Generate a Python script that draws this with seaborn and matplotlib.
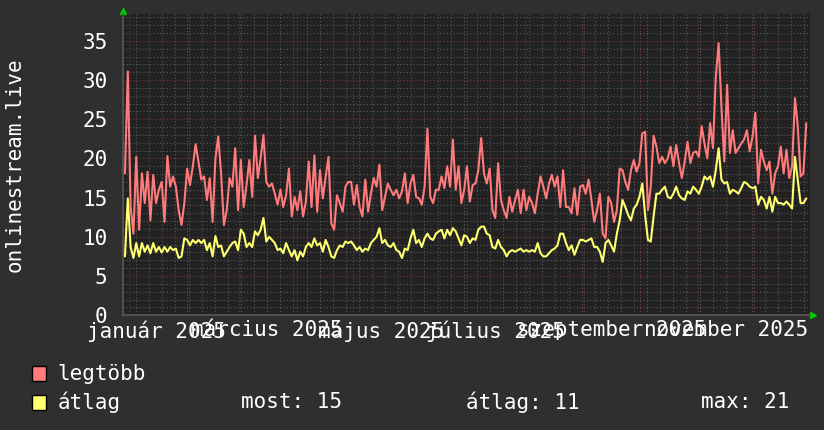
import pandas as pd
import matplotlib.pyplot as plt
import matplotlib.dates as mdates
from matplotlib.ticker import MultipleLocator
import seaborn as sns

# rrdtool-like dark style
sns.set_theme(style='dark')
plt.rcParams['font.family'] = ['DejaVu Sans Mono', 'DejaVu Sans']

# values, roughly every 1.5 days
legtobb = [
    18.1, 31.1, 13.8, 10.4, 20.2, 10.9, 18.1, 14.3, 18.3, 12.1, 17.9, 14.3, 16.0, 17.0, 11.9, 20.3,
    16.4, 17.7, 16.4, 13.4, 11.5, 14.3, 18.7, 16.6, 19.0, 21.8, 19.6, 17.3, 17.7, 14.7, 17.5, 11.9,
    20.0, 22.8, 18.1, 11.5, 13.4, 17.5, 16.4,
    21.3, 13.4, 19.8, 13.8, 16.6, 19.8, 15.1, 22.9, 17.5, 20.0, 23.0, 17.0, 16.4, 16.8, 15.5, 14.1,
    16.0, 13.8, 15.3, 18.7, 12.6, 15.1, 13.4, 15.8, 12.6, 14.5, 19.6, 13.8, 20.4, 13.2, 18.5, 14.9,
    17.7, 20.2, 11.7, 10.9, 15.3, 14.3, 13.2, 16.4, 17.0,
    17.0, 14.1, 16.6, 13.8, 12.6, 17.3, 13.2, 15.5, 17.5, 16.4, 19.2, 13.4, 15.1, 16.8, 16.0, 15.3,
    16.0, 14.9, 15.8, 18.1, 14.3, 16.8, 17.9, 15.1, 14.9, 14.1, 16.4, 23.8, 15.1, 14.3, 16.0, 16.0,
    17.7, 16.2, 19.0, 16.4, 22.4, 16.0, 19.0, 14.3, 16.0,
    19.0, 14.5, 16.6, 16.8, 18.5, 22.6, 18.1, 16.8, 18.7, 13.4, 12.4, 19.4, 14.7, 13.4, 12.4, 15.1,
    13.2, 14.7, 16.0, 13.0, 16.0, 13.4, 15.1, 14.3, 13.0, 15.5, 17.7, 16.4, 14.9, 16.8, 17.9, 16.4,
    17.7, 13.8, 18.5, 13.8, 13.8, 13.0, 16.2, 12.8, 16.4,
    16.6, 15.5, 17.3, 14.7, 11.9, 13.4, 15.5, 10.4, 9.8, 15.1, 14.3, 11.9, 13.4, 18.7, 18.5, 17.0,
    16.0, 18.5, 19.8, 18.3, 19.4, 23.2, 23.4, 13.4, 16.4, 22.9, 21.5, 19.4, 20.2, 19.4, 20.0, 21.5,
    19.0, 21.7, 19.4, 17.5, 19.6, 22.1, 19.4, 20.7, 20.9,
    20.2, 24.1, 21.9, 20.0, 24.5, 21.3, 30.4, 34.7, 26.6, 19.6, 29.4, 20.7, 23.6, 20.7, 21.3, 21.9,
    22.4, 23.6, 20.9, 22.8, 25.8, 16.8, 21.1, 19.6, 18.5, 19.6, 15.5, 18.1, 19.0, 21.5, 18.1, 21.1,
    17.5, 19.0, 27.7, 24.1, 17.7, 18.1, 24.5,
]
atlag = [
    7.5, 14.9, 8.7, 7.3, 9.2, 7.5, 9.2, 8.1, 8.9, 7.9, 9.2, 8.1, 8.7, 8.0, 8.7, 8.1,
    8.7, 8.3, 8.5, 7.3, 7.5, 9.8, 9.6, 8.9, 9.6, 9.2, 9.6, 9.2, 9.6, 8.3, 9.2, 7.5,
    10.1, 8.7, 8.9, 7.5, 8.1, 8.7, 9.2,
    9.4, 8.3, 10.9, 10.4, 8.7, 9.2, 8.7, 10.7, 10.2, 10.9, 12.4, 9.4, 10.0, 9.6, 9.2, 8.3,
    8.5, 7.9, 9.2, 8.3, 7.5, 8.3, 7.0, 8.1, 7.5, 8.7, 9.2, 8.7, 9.8, 8.9, 9.2, 8.1,
    9.6, 8.7, 7.5, 7.3, 8.3, 8.9, 8.7, 9.4, 9.2,
    9.4, 8.9, 8.3, 8.7, 8.1, 8.5, 8.3, 9.2, 9.6, 10.0, 11.1, 9.2, 9.6, 8.9, 8.7, 9.2,
    8.3, 8.1, 7.3, 8.5, 8.3, 9.8, 10.9, 9.2, 9.6, 8.7, 9.8, 10.4, 9.8, 9.6, 10.4, 10.7,
    10.9, 9.8, 10.9, 10.2, 11.1, 10.7, 9.8, 8.9, 10.2,
    10.0, 9.2, 9.8, 9.6, 10.9, 11.3, 11.3, 10.4, 10.2, 8.7, 8.5, 9.6, 8.7, 8.3, 7.5, 8.1,
    8.3, 8.1, 8.3, 8.5, 8.1, 8.3, 8.1, 8.3, 8.1, 9.2, 7.9, 7.5, 7.5, 7.9, 8.3, 8.5,
    8.9, 10.4, 10.4, 9.2, 8.3, 8.9, 7.7, 8.7, 9.6,
    9.6, 9.4, 9.6, 9.8, 8.7, 8.7, 8.1, 6.8, 9.2, 9.6, 8.9, 8.1, 10.4, 12.1, 14.7, 13.8,
    12.8, 12.1, 13.6, 14.1, 15.1, 16.8, 12.8, 9.6, 9.4, 12.6, 15.5, 15.5, 16.0, 16.4, 15.1, 14.9,
    15.5, 16.4, 15.3, 14.9, 14.7, 15.8, 15.5, 16.4, 16.0,
    15.5, 16.4, 17.7, 17.3, 17.7, 16.4, 18.5, 21.3, 17.3, 16.8, 17.0, 15.5, 16.0, 15.8, 15.5, 16.2,
    17.0, 16.8, 16.4, 16.2, 16.4, 14.1, 15.1, 14.7, 13.6, 15.1, 13.2, 15.1, 14.3, 14.3, 14.1, 14.5,
    14.1, 13.6, 20.2, 17.3, 14.3, 14.3, 14.9,
]
legend_names = ['legtöbb', 'átlag']
stat_labels = ['most: 15', 'átlag: 11', 'max: 21']
month_labels = ['január 2025', 'március 2025', 'május 2025',
                'július 2025', 'szeptember 2025', 'november 2025']
label_dates = pd.to_datetime(['2025-01-16', '2025-03-16', '2025-05-16',
                              '2025-07-16', '2025-09-16', '2025-11-16'])

dates = pd.date_range('2024-12-30', '2025-12-29', periods=len(legtobb))
df = pd.DataFrame({'datum': dates, 'legtöbb': legtobb, 'átlag': atlag})

red = '#ff7b7b'
yellow = '#ffff70'
fig_bg = '#2f2f2f'
plot_bg = '#222222'

fig = plt.figure(figsize=(8.24, 4.30), dpi=100, facecolor=fig_bg)
ax = fig.add_axes([0.149, 0.267, 0.834, 0.700])
ax.set_facecolor(plot_bg)

sns.lineplot(data=df, x='datum', y='legtöbb', color=red, lw=1.5, ax=ax)
sns.lineplot(data=df, x='datum', y='átlag', color=yellow, lw=1.5, ax=ax)

ax.set_xlim(pd.Timestamp('2024-12-28 20:00'), pd.Timestamp('2025-12-31'))
ax.set_ylim(0, 38.4)

# grid: weekly / unit minor, monthly / 5-unit major
ax.yaxis.set_major_locator(MultipleLocator(5))
ax.yaxis.set_minor_locator(MultipleLocator(1))
ax.xaxis.set_major_locator(mdates.MonthLocator())
ax.xaxis.set_minor_locator(mdates.WeekdayLocator(byweekday=mdates.SU))
ax.grid(which='minor', color='#5a5a5a', ls=(0, (1, 2)), lw=0.8)
ax.grid(which='major', color='#7a3a3a', ls=(0, (1, 2)), lw=0.8)
ax.set_axisbelow(True)
ax.set_xticklabels([])

# month labels, two months apart
for d, lab in zip(label_dates, month_labels):
    ax.text(d, -0.017, lab, ha='center', va='top', color='white', fontsize=15,
            transform=ax.get_xaxis_transform())

ax.tick_params(axis='x', which='both', length=0)
ax.tick_params(axis='y', which='both', length=0, colors='white', labelsize=15, pad=11)
ax.set_xlabel('')
ax.set_ylabel('onlinestream.live', color='white', fontsize=15)
ax.yaxis.set_label_coords(-0.143, 0.5)
for s in ['top', 'right']:
    ax.spines[s].set_visible(False)
ax.spines['left'].set_color('#555555')
ax.spines['bottom'].set_color('#555555')

# small green arrows at the axis ends
ax.plot([0], [1.01], marker='^', color='#00cc00', ms=4, transform=ax.transAxes, clip_on=False)
ax.plot([1.005], [0], marker='>', color='#00cc00', ms=4, transform=ax.transAxes, clip_on=False)

# legend rows at the bottom
for i, (name, col) in enumerate(zip(legend_names, [red, yellow])):
    y = 0.130 - i * 0.066
    fig.patches.append(plt.Rectangle((0.039, y - 0.017), 0.017, 0.035, transform=fig.transFigure,
                                     facecolor=col, edgecolor='black', lw=1))
    fig.text(0.070, y, name, color='white', fontsize=15, va='center')
for x, lab in zip([0.293, 0.565, 0.851], stat_labels):
    fig.text(x, 0.064, lab, color='white', fontsize=15, va='center')

fig.savefig('out.png', dpi=100, facecolor=fig_bg)
